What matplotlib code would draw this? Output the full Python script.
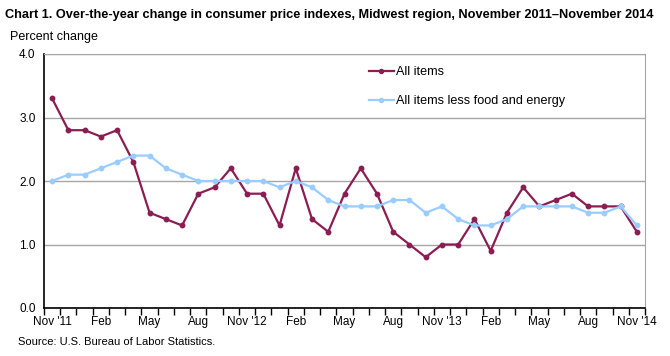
import numpy as np
import matplotlib
matplotlib.use('Agg')
import matplotlib.pyplot as plt
from matplotlib.ticker import FixedLocator, NullFormatter

plt.rcParams['font.family'] = ['Liberation Sans', 'DejaVu Sans']

# Nov 2011 .. Nov 2014, monthly
all_items = [3.3, 2.8, 2.8, 2.7, 2.8, 2.3, 1.5, 1.4, 1.3, 1.8, 1.9, 2.2,
             1.8, 1.8, 1.3, 2.2, 1.4, 1.2, 1.8, 2.2, 1.8, 1.2, 1.0, 0.8,
             1.0, 1.0, 1.4, 0.9, 1.5, 1.9, 1.6, 1.7, 1.8, 1.6, 1.6, 1.6,
             1.2]
core = [2.0, 2.1, 2.1, 2.2, 2.3, 2.4, 2.4, 2.2, 2.1, 2.0, 2.0, 2.0,
        2.0, 2.0, 1.9, 2.0, 1.9, 1.7, 1.6, 1.6, 1.6, 1.7, 1.7, 1.5,
        1.6, 1.4, 1.3, 1.3, 1.4, 1.6, 1.6, 1.6, 1.6, 1.5, 1.5, 1.6,
        1.3]
tick_labels = ["Nov '11", 'Feb', 'May', 'Aug', "Nov '12", 'Feb', 'May', 'Aug',
               "Nov '13", 'Feb', 'May', 'Aug', "Nov '14"]
y_ticks = [0.0, 1.0, 2.0, 3.0, 4.0]

maroon = '#8c1d52'
light_blue = '#99ccff'

fig = plt.figure(figsize=(6.7, 3.56), dpi=100)
ax = fig.add_axes([44 / 670, 1 - 308 / 356, 601 / 670, 254 / 356])

x = np.arange(len(all_items))
ax.plot(x, all_items, color=maroon, lw=1.6, marker='o', ms=3.2, label='All items', zorder=3)
ax.plot(x, core, color=light_blue, lw=1.6, marker='o', ms=3.2,
        label='All items less food and energy', zorder=3)

ax.set_xlim(-0.5, len(x) - 0.5)
ax.set_ylim(0, 4)
ax.set_yticks(y_ticks)
ax.set_yticklabels([f'{v:.1f}' for v in y_ticks], fontsize=8.5)
ax.yaxis.grid(True, color='#a6a6a6', lw=1)
ax.set_axisbelow(True)
ax.tick_params(axis='y', length=0, pad=6)

ax.set_xticks(x[::3])
ax.set_xticklabels(tick_labels, fontsize=8.5)
ax.tick_params(axis='x', which='major', length=0, pad=6)
ax.xaxis.set_minor_locator(FixedLocator(np.arange(-0.5, len(x), 1.0)))
ax.xaxis.set_minor_formatter(NullFormatter())
ax.tick_params(axis='x', which='minor', length=5, width=1, color='black', direction='out')

for s in ['top', 'right']:
    ax.spines[s].set_color('#a6a6a6')
for s in ['left', 'bottom']:
    ax.spines[s].set_color('black')
    ax.spines[s].set_linewidth(1.2)

leg = ax.legend(loc='upper left', bbox_to_anchor=(0.52, 1.0), frameon=True,
                fontsize=9.1, handlelength=2.0, handletextpad=0.15,
                labelspacing=1.35, borderpad=0.45, edgecolor='none', markerscale=0.9)
leg.get_frame().set_facecolor('white')
leg.get_frame().set_alpha(1)

fig.text(5 / 670, 1 - 15 / 356, 'Chart 1. Over-the-year change in consumer price indexes, Midwest region, November 2011\u2013November 2014',
         fontsize=9.2, fontweight='bold', va='center', ha='left')
fig.text(10 / 670, 1 - 37 / 356, 'Percent change', fontsize=9, va='center', ha='left')
fig.text(18 / 670, 1 - 342 / 356, 'Source: U.S. Bureau of Labor Statistics.', fontsize=8, va='center', ha='left')

fig.savefig('out.png', dpi=100)
